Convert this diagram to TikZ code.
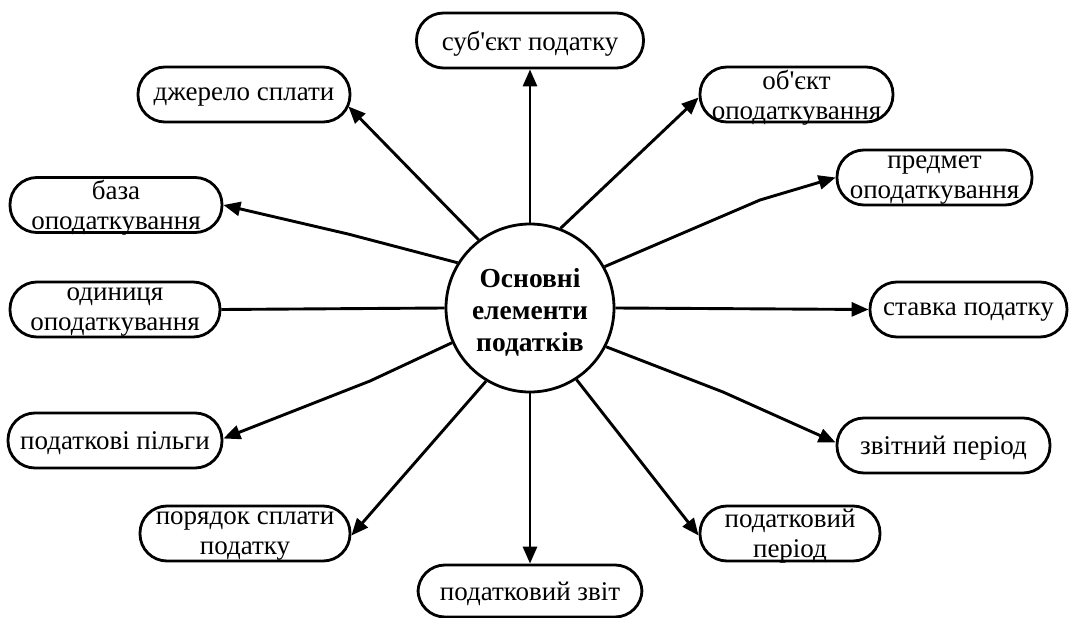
\documentclass[tikz,border=0pt]{standalone}
\usepackage{fontspec}
\setmainfont{Liberation Serif}
\usetikzlibrary{arrows.meta,calc}
\begin{document}
\begin{tikzpicture}[x=1pt,y=-1pt,
  box/.style={draw,line width=2.8pt,rounded corners=27pt,inner sep=0pt,minimum height=55pt},
  lab/.style={font=\fontsize{27}{30}\selectfont,align=center,inner sep=0pt,yshift=-3pt},
  hub/.style={draw,circle,line width=2.8pt,minimum size=168pt,inner sep=0pt,align=center,font=\fontsize{27.5}{32}\selectfont\bfseries},
  link/.style={line width=2.9pt},
  arr/.style={link,-{Triangle[length=17pt,width=14pt]}}]
\useasboundingbox (0,0) rectangle (1069,618);
\node[hub] (c) at (530,308) {\rule{0pt}{27pt}Основні\\елементи\\податків};
\node[box,minimum width=227pt,label={[lab]center:{суб\textquotesingle єкт податку}}] (subj) at (530,40.5) {};
\node[box,minimum width=212pt,label={[lab]center:{джерело сплати}}] (dzh) at (244,94.5) {};
\node[box,minimum width=193pt,label={[lab]center:{об\textquotesingle єкт\\оподаткування}}] (obj) at (796.5,94.5) {};
\node[box,minimum width=212pt,label={[lab]center:{база\\оподаткування}}] (baza) at (116,205) {};
\node[box,minimum width=195pt,label={[lab]center:{предмет\\оподаткування}}] (predm) at (934.5,177.5) {};
\node[box,minimum width=210pt,label={[lab]center:{одиниця\\оподаткування}}] (odyn) at (115,309.5) {};
\node[box,minimum width=197pt,label={[lab]center:{ставка податку}}] (stavka) at (968.5,309.5) {};
\node[box,minimum width=214pt,label={[lab]center:{податкові пільги}}] (pilhy) at (115,440.5) {};
\node[box,minimum width=213pt,label={[lab]center:{звітний період}}] (zvitp) at (943.5,445.5) {};
\node[box,minimum width=210pt,label={[lab]center:{порядок сплати\\податку}}] (poryad) at (245,533.5) {};
\node[box,minimum width=180pt,label={[lab]center:{податковий\\період}}] (podper) at (790,533.5) {};
\node[box,minimum width=224pt,minimum height=52pt,label={[lab]center:{податковий звіт}}] (zvit) at (530,591) {};
\coordinate (b1) at (348,234);
\coordinate (b2) at (760,200);
\coordinate (b3) at (370,381);
\coordinate (b4) at (723,392);
\draw[arr] (c.127) -- ($(dzh.east)+(-3,12)$);
\draw[arr] (c.90) -- (subj.south);
\draw[arr] (c.69.4) -- ($(obj.west)+(0,3)$);
\draw[arr] (c.148.6) -- (b1) -- (baza.east);
\draw[arr] (c.29.3) -- (b2) -- (predm.west);
\draw[link] (odyn.east) -- (c.180);
\draw[arr] (c.0) -- (stavka.west);
\draw[arr] (c.204.4) -- (b3) -- ($(pilhy.east)+(0,-2)$);
\draw[arr] (c.333.7) -- (b4) -- ($(zvitp.west)+(0,-3)$);
\draw[arr] (c.239.8) -- ($(poryad.east)+(0,2)$);
\draw[arr] (c.270) -- (zvit.north);
\draw[arr] (c.303.9) -- ($(podper.west)+(0,2)$);
\end{tikzpicture}
\end{document}
